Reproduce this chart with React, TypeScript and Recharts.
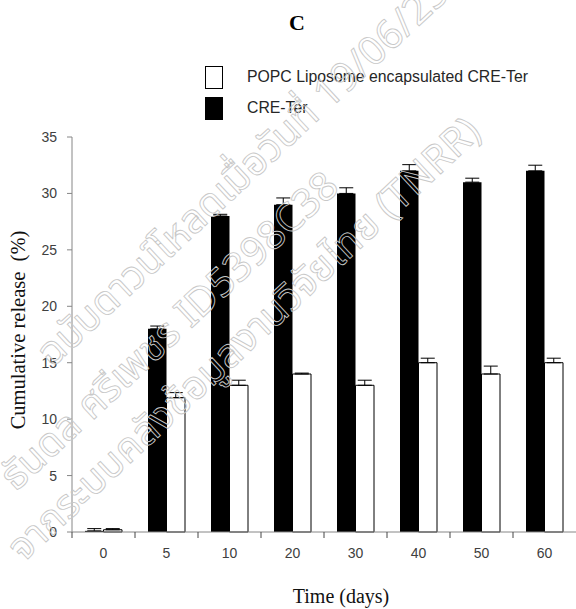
import React from "react";
import { BarChart, Bar, XAxis, YAxis, ErrorBar, Legend } from "recharts";

// Cumulative release over time: free CRE-Ter vs POPC liposome-encapsulated CRE-Ter.

const days = ["0", "5", "10", "20", "30", "40", "50", "60"];
const creTer = [0.1, 18, 28, 29, 30, 32, 31, 32];
const creTerErr = [0.2, 0.25, 0.15, 0.6, 0.5, 0.55, 0.35, 0.5];
const popc = [0.2, 11.9, 13, 14, 13, 15, 14, 15];
const popcErr = [0.1, 0.45, 0.45, 0.08, 0.45, 0.4, 0.7, 0.4];
const yTicks = [0, 5, 10, 15, 20, 25, 30, 35];
const legendLabels = ["POPC Liposome encapsulated CRE-Ter", "CRE-Ter"];
const watermark = [
  "ฉบับดาวน์โหลดเมื่อวันที่ 19/06/2568",
  "ธันดล ศรีเพชร ID5398C38",
  "จากระบบคลังข้อมูลงานวิจัยไทย (TNRR)",
];

const data = days.map((day, i) => ({
  day,
  creTer: creTer[i],
  creTerErr: [0, creTerErr[i]],
  popc: popc[i],
  popcErr: [0, popcErr[i]],
}));

const SANS = "'Liberation Sans', Arial, sans-serif";
const SERIF = "'Liberation Serif', 'Times New Roman', serif";
const AXIS = "#868686";
const TICK_SIZE = 6;
const TICK_MARGIN = 10;

// x ticks: label in the middle of the category, tick mark on its left boundary
function DayTick(props: any) {
  const { x, y, payload } = props;
  const half = payload && typeof payload.offset === "number" && payload.offset > 0 ? payload.offset : 31.5;
  const axisY = y - TICK_SIZE - TICK_MARGIN;
  return (
    <g>
      <line x1={x - half} x2={x - half} y1={axisY} y2={axisY + TICK_SIZE} stroke="#444" />
      <text x={x} y={y} dy="0.71em" textAnchor="middle" fontFamily={SANS} fontSize={14} fill="#404040">
        {payload.value}
      </text>
    </g>
  );
}

function LegendBox() {
  return (
    <svg width={576} height={130} style={{ display: "block" }}>
      <rect x={205.5} y={66.5} width={17} height={22} fill="#fff" stroke="#000" />
      <rect x={205} y={97} width={18} height={23} fill="#000" />
      <text x={247} y={82} fontFamily={SANS} fontSize={15.8} fill="#262626">
        {legendLabels[0]}
      </text>
      <text x={247} y={113} fontFamily={SANS} fontSize={15.8} fill="#262626">
        {legendLabels[1]}
      </text>
    </svg>
  );
}

export default function App() {
  const centres = [
    [260, 158],
    [170, 332],
    [245, 340],
  ];
  return (
    <div style={{ position: "absolute", left: 0, top: 0, width: 576, height: 609, background: "#fff" }}>
      <BarChart
        width={576}
        height={609}
        data={data}
        margin={{ top: 137, right: 0, bottom: 0, left: 0 }}
        barGap={0}
        barSize={18.5}
      >
        <XAxis
          dataKey="day"
          height={77}
          interval={0}
          axisLine={{ stroke: AXIS }}
          tickLine={false}
          tickSize={TICK_SIZE}
          tickMargin={TICK_MARGIN}
          tick={<DayTick />}
          label={{
            content: () => (
              <text x={341} y={603} textAnchor="middle" fontFamily={SERIF} fontSize={20} fill="#111">
                Time (days)
              </text>
            ),
          }}
        />
        <YAxis
          width={72}
          domain={[0, 35]}
          ticks={yTicks}
          interval={0}
          axisLine={{ stroke: AXIS }}
          tickLine={{ stroke: AXIS }}
          tickSize={5}
          tickMargin={10}
          tick={{ fontFamily: SANS, fontSize: 14, fill: "#404040" }}
          label={{
            content: () => (
              <text
                transform="translate(25,330) rotate(-90)"
                textAnchor="middle"
                fontFamily={SERIF}
                fontSize={20.5}
                fill="#111"
                style={{ whiteSpace: "pre" }}
              >
                {"Cumulative release  (%)"}
              </text>
            ),
          }}
        />
        <Legend
          layout="horizontal"
          verticalAlign="middle"
          align="center"
          wrapperStyle={{ top: 0, left: 0, width: 576, height: 130 }}
          content={() => <LegendBox />}
        />
        <Bar dataKey="creTer" fill="#000" isAnimationActive={false}>
          <ErrorBar dataKey="creTerErr" direction="y" width={7} stroke="#000" strokeWidth={1} />
        </Bar>
        <Bar dataKey="popc" fill="#fff" stroke="#000" strokeWidth={1} isAnimationActive={false}>
          <ErrorBar dataKey="popcErr" direction="y" width={7} stroke="#000" strokeWidth={1} />
        </Bar>
      </BarChart>
      <svg
        width={576}
        height={609}
        style={{ position: "absolute", left: 0, top: 0, pointerEvents: "none" }}
      >
        <text x={297} y={30} textAnchor="middle" fontFamily={SERIF} fontWeight="bold" fontSize={22} fill="#000">
          C
        </text>
        {watermark.map((line, i) => (
          <text
            key={i}
            transform={`translate(${centres[i][0]},${centres[i][1]}) rotate(-43)`}
            textAnchor="middle"
            dominantBaseline="central"
            fontFamily="'Noto Sans Thai', 'Noto Sans', sans-serif"
            fontSize={40}
            fill="none"
            stroke="#c8c8c8"
            strokeWidth={0.9}
          >
            {line}
          </text>
        ))}
      </svg>
    </div>
  );
}
